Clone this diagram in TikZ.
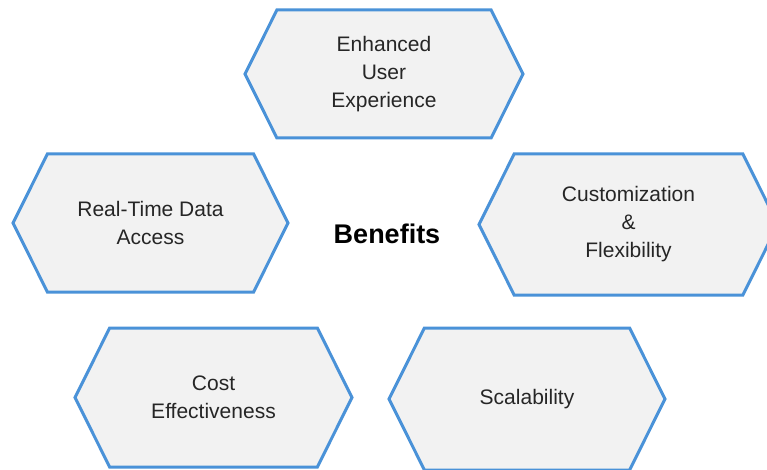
\documentclass[tikz,border=0pt]{standalone}
\usepackage{fontspec}
\setmainfont{Liberation Sans}
\usepackage{tikz}
\usetikzlibrary{shapes.symbols}
\definecolor{hexblue}{RGB}{74,146,216}
\definecolor{hexfill}{RGB}{242,242,242}
\definecolor{hextext}{RGB}{38,38,38}

\begin{document}
\begin{tikzpicture}[
    x=1pt, y=1pt,
    benefit/.style={
        signal,
        signal to=west and east,
        signal pointer angle=127,
        draw=hexblue,
        fill=hexfill,
        line width=3pt,
        inner sep=0pt,
        align=center,
        text=hextext,
        font=\fontsize{21}{28}\selectfont
    },
    hub/.style={
        font=\fontsize{27}{32}\selectfont\bfseries
    }
]
\useasboundingbox (0,0) rectangle (767,-470);
\fill[white] (0,0) rectangle (767,-470);

% Centre label
\node[hub] (hub) at (387,-234) {Benefits};

% Benefit hexagons
\node[benefit, minimum width=278pt, minimum height=128pt] (ux) at (384,-74) {Enhanced\\User\\Experience};
\node[benefit, minimum width=275pt, minimum height=138pt] (realtime) at (150.5,-223) {Real-Time Data\\Access};
\node[benefit, minimum width=299pt, minimum height=141pt] (custom) at (628.5,-224.5) {Customization\\\&\\Flexibility};
\node[benefit, minimum width=277pt, minimum height=139pt] (cost) at (213.5,-397.5) {Cost\\Effectiveness};
\node[benefit, minimum width=276pt, minimum height=142pt] (scale) at (527,-399) {Scalability};

\end{tikzpicture}
\end{document}
